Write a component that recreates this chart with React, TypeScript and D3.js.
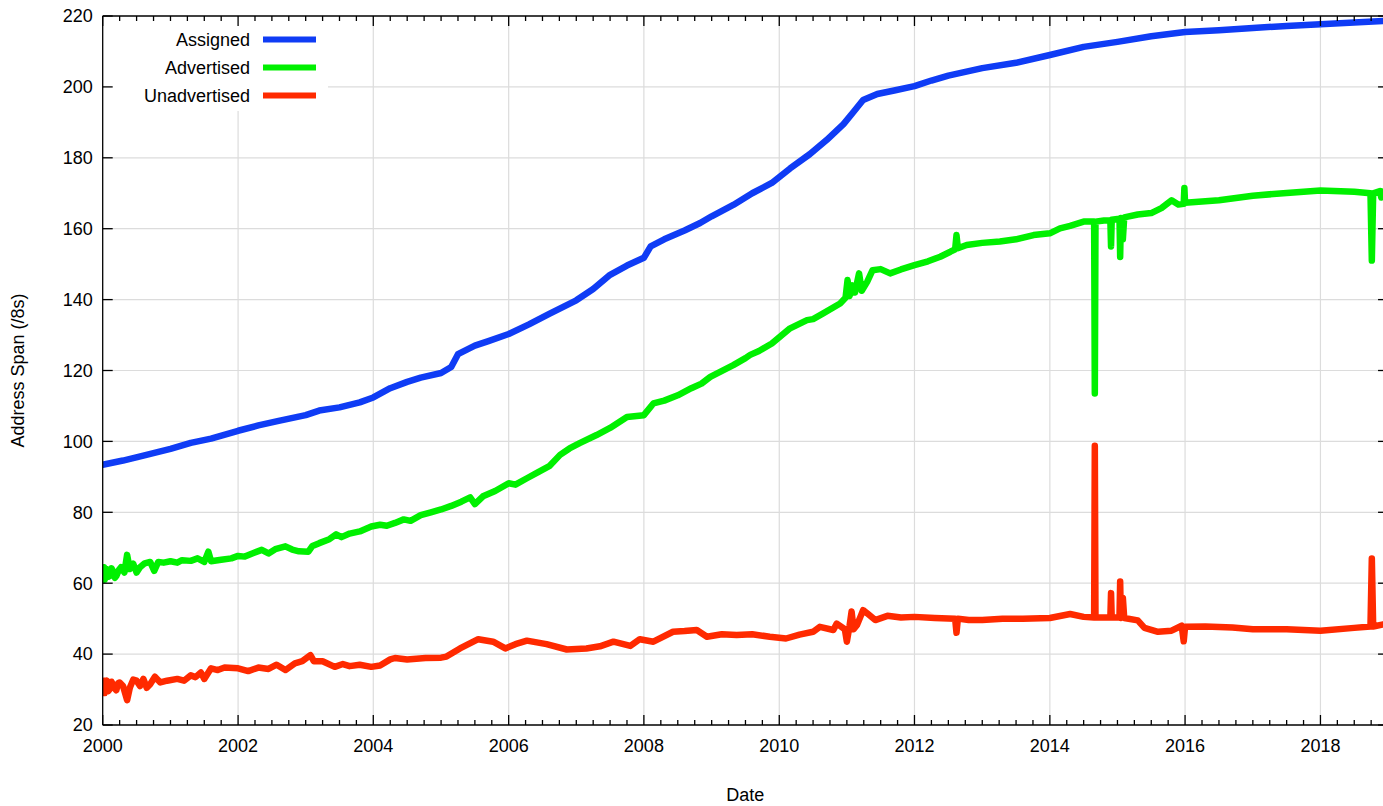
import React from "react";
import * as d3 from "d3";

// ---------- data (decimal years, /8s) ----------
const assignedYears = [2000.0,2000.3,2000.6,2001.0,2001.3,2001.6,2002.0,2002.3,2002.6,2003.0,2003.2,2003.5,2003.8,2004.0,2004.25,2004.5,2004.7,2005.0,2005.15,2005.25,2005.5,2005.7,2006.0,2006.3,2006.6,2007.0,2007.25,2007.5,2007.75,2008.0,2008.1,2008.3,2008.6,2008.83,2009.0,2009.32,2009.6,2009.89,2010.16,2010.45,2010.7,2010.95,2011.1,2011.24,2011.45,2011.7,2012.0,2012.25,2012.5,2013.0,2013.5,2014.0,2014.5,2015.0,2015.5,2016.0,2016.5,2017.0,2017.5,2018.0,2018.93];
const assignedValues = [93.4,94.6,96.0,97.9,99.6,100.8,103.0,104.5,105.8,107.4,108.7,109.6,111.0,112.4,115.0,116.8,118.0,119.3,121.0,124.6,127.0,128.3,130.3,133.0,136.0,139.8,143.0,147.0,149.6,151.8,155.0,157.0,159.5,161.6,163.5,166.7,170.0,172.9,177.0,181.0,185.0,189.5,193.0,196.3,198.0,199.0,200.2,201.8,203.2,205.3,206.8,209.0,211.3,212.7,214.3,215.5,216.0,216.6,217.2,217.7,218.6];

const advertisedYears = [2000.0,2000.02,2000.03,2000.05,2000.06,2000.08,2000.1,2000.13,2000.15,2000.18,2000.2,2000.24,2000.27,2000.32,2000.36,2000.4,2000.45,2000.5,2000.55,2000.62,2000.7,2000.76,2000.82,2000.9,2001.0,2001.1,2001.17,2001.3,2001.4,2001.5,2001.56,2001.6,2001.75,2001.9,2002.0,2002.1,2002.2,2002.35,2002.45,2002.55,2002.7,2002.8,2002.9,2003.04,2003.1,2003.2,2003.35,2003.45,2003.53,2003.65,2003.8,2003.97,2004.1,2004.2,2004.32,2004.45,2004.55,2004.7,2004.85,2005.0,2005.15,2005.3,2005.43,2005.5,2005.62,2005.8,2006.0,2006.1,2006.27,2006.45,2006.6,2006.76,2006.9,2007.05,2007.3,2007.5,2007.75,2008.0,2008.14,2008.3,2008.5,2008.7,2008.85,2008.98,2009.32,2009.5,2009.57,2009.7,2009.89,2010.16,2010.41,2010.5,2010.65,2010.9,2010.98,2011.01,2011.04,2011.08,2011.12,2011.18,2011.22,2011.3,2011.38,2011.5,2011.64,2011.8,2012.0,2012.2,2012.38,2012.53,2012.6,2012.62,2012.64,2012.77,2013.0,2013.26,2013.5,2013.76,2014.0,2014.15,2014.3,2014.5,2014.655,2014.665,2014.675,2014.8,2014.895,2014.905,2014.915,2015.03,2015.04,2015.05,2015.08,2015.1,2015.3,2015.5,2015.65,2015.8,2015.9,2015.98,2015.99,2016.0,2016.5,2017.0,2017.5,2018.0,2018.5,2018.74,2018.76,2018.78,2018.88,2018.9,2018.93];
const advertisedValues = [63.0,64.5,61.0,63.5,64.0,61.8,62.0,64.2,63.5,61.5,62.0,63.8,64.5,63.0,68.0,64.0,65.5,63.0,64.5,65.6,66.0,63.5,66.0,65.8,66.2,65.8,66.5,66.3,67.0,66.0,68.9,66.2,66.6,67.0,67.7,67.5,68.3,69.4,68.4,69.6,70.4,69.5,69.0,68.9,70.5,71.3,72.4,73.8,73.0,74.0,74.6,76.0,76.5,76.2,77.0,78.0,77.6,79.2,80.0,80.8,81.8,83.0,84.2,82.3,84.5,86.0,88.2,87.8,89.6,91.5,93.0,96.2,98.0,99.5,101.8,103.8,106.9,107.4,110.7,111.5,113.0,115.0,116.3,118.2,121.5,123.5,124.4,125.5,127.6,131.9,134.2,134.5,136.1,138.9,140.5,145.5,141.0,144.0,142.0,147.4,142.5,145.0,148.3,148.6,147.4,148.5,149.7,150.8,152.1,153.5,154.2,158.2,154.5,155.4,156.0,156.4,157.0,158.2,158.7,160.1,160.8,162.0,162.0,113.5,162.0,162.3,162.3,155.0,162.5,162.8,152.0,163.0,157.0,163.2,164.0,164.4,165.8,168.0,166.8,167.0,171.5,167.3,168.0,169.3,170.1,170.8,170.4,170.0,151.0,170.0,170.6,168.8,170.5];

const unadvertisedYears = [2000.0,2000.02,2000.03,2000.05,2000.06,2000.08,2000.1,2000.13,2000.15,2000.18,2000.2,2000.23,2000.25,2000.3,2000.36,2000.4,2000.45,2000.5,2000.55,2000.6,2000.65,2000.7,2000.77,2000.85,2000.95,2001.1,2001.2,2001.3,2001.37,2001.45,2001.5,2001.6,2001.7,2001.8,2002.0,2002.15,2002.3,2002.45,2002.57,2002.7,2002.84,2002.95,2003.07,2003.12,2003.25,2003.43,2003.55,2003.65,2003.8,2003.97,2004.1,2004.25,2004.32,2004.5,2004.77,2005.0,2005.08,2005.28,2005.55,2005.77,2005.95,2006.1,2006.27,2006.56,2006.86,2007.15,2007.35,2007.55,2007.8,2007.94,2008.14,2008.43,2008.6,2008.78,2008.93,2009.15,2009.37,2009.6,2009.86,2010.1,2010.3,2010.5,2010.6,2010.8,2010.85,2010.97,2011.0,2011.04,2011.07,2011.1,2011.15,2011.2,2011.24,2011.3,2011.42,2011.6,2011.8,2012.0,2012.3,2012.6,2012.62,2012.64,2012.8,2013.0,2013.3,2013.6,2014.0,2014.3,2014.5,2014.655,2014.665,2014.675,2014.895,2014.905,2014.915,2015.03,2015.04,2015.05,2015.08,2015.1,2015.3,2015.4,2015.6,2015.8,2015.95,2015.98,2016.0,2016.3,2016.7,2017.0,2017.5,2018.0,2018.5,2018.74,2018.76,2018.78,2018.93];
const unadvertisedValues = [30.9,32.5,29.0,31.8,32.5,29.5,30.0,32.2,31.5,30.2,29.8,31.8,32.0,31.0,27.0,30.5,32.8,32.5,31.0,33.0,30.5,31.5,33.6,32.0,32.5,33.0,32.5,34.0,33.5,34.8,33.0,36.0,35.5,36.2,36.0,35.2,36.2,35.8,37.0,35.5,37.4,38.0,39.7,38.0,38.0,36.4,37.2,36.6,37.0,36.4,36.8,38.5,38.9,38.5,38.9,39.0,39.3,41.6,44.2,43.5,41.6,42.8,43.8,42.8,41.3,41.6,42.2,43.5,42.3,44.2,43.5,46.3,46.5,46.8,44.9,45.6,45.4,45.6,44.9,44.4,45.5,46.3,47.7,46.8,48.6,47.0,43.5,48.0,52.0,47.0,48.2,50.5,52.4,51.5,49.6,50.8,50.3,50.5,50.2,50.0,46.0,50.0,49.6,49.6,50.0,50.0,50.2,51.3,50.5,50.3,98.8,50.3,50.3,57.2,50.3,50.3,60.5,50.2,55.8,50.2,49.5,47.4,46.3,46.6,48.0,43.6,47.7,47.8,47.5,47.0,47.0,46.6,47.4,47.8,67.0,47.8,48.4];

const seriesNames = ["Assigned", "Advertised", "Unadvertised"];
const seriesColors = ["#0f3cf5", "#00f000", "#ff2a00"];
const yTicks = [20, 40, 60, 80, 100, 120, 140, 160, 180, 200, 220];
const xTickYears = [2000, 2002, 2004, 2006, 2008, 2010, 2012, 2014, 2016, 2018];

// ---------- layout ----------
const W = 1383, H = 806;
const L = 102.7, T = 16, B = 725;
const R = L + 19 * 67.65; // plot extends to 2019, just past the image edge
const FONT = "'Liberation Sans', Arial, sans-serif";

function yearToDate(y: number): Date {
  const yi = Math.floor(y);
  const start = new Date(Date.UTC(yi, 0, 1)).getTime();
  const end = new Date(Date.UTC(yi + 1, 0, 1)).getTime();
  return new Date(start + (y - yi) * (end - start));
}

export default function App() {
  const x = d3.scaleUtc().domain([yearToDate(2000), yearToDate(2019)]).range([L, R]);
  const y = d3.scaleLinear().domain([20, 220]).range([B, T]);

  const series = [
    assignedYears.map((yr, i) => [yr, assignedValues[i]]),
    advertisedYears.map((yr, i) => [yr, advertisedValues[i]]),
    unadvertisedYears.map((yr, i) => [yr, unadvertisedValues[i]]),
  ];
  const line = d3.line<number[]>().x((d) => x(yearToDate(d[0]))).y((d) => y(d[1]));

  const minorTicks: Date[] = [];
  for (let q = 0; q <= 19 * 4; q++) {
    if (q % 8 === 0) continue;
    minorTicks.push(yearToDate(2000 + q / 4));
  }

  return (
    <svg width={W} height={H} style={{ position: "absolute", left: 0, top: 0, background: "#fff" }}>
      <defs>
        <clipPath id="plot">
          <rect x={L} y={T} width={R - L} height={B - T} />
        </clipPath>
      </defs>
      {/* grid */}
      <g stroke="#dcdcdc" strokeWidth={1.2}>
        {yTicks.filter((v) => v !== 20 && v !== 220).map((v) => (
          <line key={"gy" + v} x1={L} x2={R} y1={y(v)} y2={y(v)} />
        ))}
        {xTickYears.filter((v) => v !== 2000).map((v) => (
          <line key={"gx" + v} x1={x(yearToDate(v))} x2={x(yearToDate(v))} y1={T} y2={B} />
        ))}
      </g>
      {/* series */}
      <g clipPath="url(#plot)" fill="none" strokeWidth={6.5} strokeLinejoin="round" strokeLinecap="round">
        {series.map((s, i) => (
          <path key={i} d={line(s as any) || ""} stroke={seriesColors[i]} />
        ))}
      </g>
      {/* legend */}
      <rect x={104} y={17} width={224} height={94} fill="#fff" />
      {seriesNames.map((n, i) => (
        <g key={n}>
          <text x={250} y={39.5 + i * 28} dy="0.35em" textAnchor="end" fontFamily={FONT} fontSize={18}>{n}</text>
          <line x1={263} x2={316} y1={39.5 + i * 28} y2={39.5 + i * 28} stroke={seriesColors[i]} strokeWidth={6} />
        </g>
      ))}
      {/* frame */}
      <g stroke="#000" strokeWidth={1.3} fill="none">
        <line x1={L} x2={R} y1={T} y2={T} />
        <line x1={L} x2={R} y1={B} y2={B} />
        <line x1={L} x2={L} y1={T} y2={B} />
        <line x1={R} x2={R} y1={T} y2={B} />
        {yTicks.map((v) => (
          <g key={"ty" + v}>
            <line x1={L} x2={L + 10} y1={y(v)} y2={y(v)} />
            <line x1={R} x2={R - 10} y1={y(v)} y2={y(v)} />
          </g>
        ))}
        {xTickYears.map((v) => (
          <g key={"tx" + v}>
            <line x1={x(yearToDate(v))} x2={x(yearToDate(v))} y1={B} y2={B - 10} />
            <line x1={x(yearToDate(v))} x2={x(yearToDate(v))} y1={T} y2={T + 10} />
          </g>
        ))}
        {minorTicks.map((d, i) => (
          <g key={"mt" + i}>
            <line x1={x(d)} x2={x(d)} y1={B} y2={B - 5} />
            <line x1={x(d)} x2={x(d)} y1={T} y2={T + 5} />
          </g>
        ))}
      </g>
      {/* tick labels */}
      <g fontFamily={FONT} fontSize={18} fill="#000">
        {yTicks.map((v) => (
          <text key={"ly" + v} x={L - 10} y={y(v)} dy="0.35em" textAnchor="end">{v}</text>
        ))}
        {xTickYears.map((v) => (
          <text key={"lx" + v} x={x(yearToDate(v))} y={752} textAnchor="middle">{v}</text>
        ))}
        <text x={(L + R) / 2} y={801} textAnchor="middle">Date</text>
        <text transform={`translate(24, ${(T + B) / 2}) rotate(-90)`} textAnchor="middle">Address Span (/8s)</text>
      </g>
    </svg>
  );
}
